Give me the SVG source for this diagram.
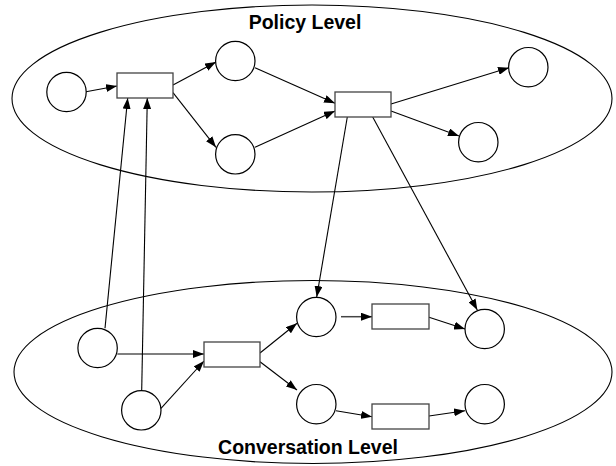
<svg xmlns="http://www.w3.org/2000/svg" width="616" height="466" viewBox="0 0 616 466">
<style>
.lvl{fill:none;stroke:#000;stroke-width:1.1}
.pl{fill:#fff;stroke:#000;stroke-width:1.2}
.tr{fill:#fff;stroke:#444;stroke-width:1.3}
.c{fill:none;stroke:#000;stroke-width:1.1;marker-end:url(#ah)}
.lbl{font-family:"Liberation Sans",Arial,sans-serif;font-weight:bold;font-size:19.5px;text-anchor:middle;fill:#000}
</style>
<defs>
<marker id="ah" markerUnits="userSpaceOnUse" markerWidth="11" markerHeight="8" refX="11" refY="4" orient="auto">
<path d="M0,0 L11,4 L0,8 z" fill="#000"/>
</marker>
</defs>
<rect width="616" height="466" fill="#fff"/>
<g id="policy-level">
<ellipse class="lvl" cx="312" cy="98.5" rx="300" ry="93.5"/>
<text class="lbl" x="305" y="29">Policy Level</text>
</g>
<g id="conversation-level">
<ellipse class="lvl" cx="313" cy="372" rx="299" ry="91.5"/>
<text class="lbl" x="308" y="454">Conversation Level</text>
</g>
<g id="connectors">
<line class="c" x1="86" y1="91.7" x2="117" y2="86"/>
<line class="c" x1="173" y1="85" x2="216" y2="62"/>
<line class="c" x1="173" y1="92.7" x2="216" y2="147.3"/>
<line class="c" x1="255" y1="67.7" x2="335" y2="103.3"/>
<line class="c" x1="255" y1="147.3" x2="335" y2="111"/>
<line class="c" x1="391" y1="104" x2="509" y2="67.7"/>
<line class="c" x1="391" y1="111" x2="459" y2="136"/>
<line class="c" x1="347.3" y1="117" x2="316.7" y2="297"/>
<line class="c" x1="372.7" y1="117" x2="477.3" y2="310"/>
<line class="c" x1="105" y1="328.3" x2="127.7" y2="98"/>
<line class="c" x1="141.7" y1="390.7" x2="147.3" y2="98"/>
<line class="c" x1="117.3" y1="354" x2="204" y2="354"/>
<line class="c" x1="161" y1="408.3" x2="204" y2="361"/>
<line class="c" x1="260" y1="353" x2="297" y2="323.3"/>
<line class="c" x1="260" y1="361.7" x2="297" y2="390"/>
<line class="c" x1="341" y1="316.7" x2="372" y2="316.7" style="stroke:#444;stroke-width:1.5"/>
<line class="c" x1="429" y1="317.3" x2="465" y2="329"/>
<line class="c" x1="336" y1="410.7" x2="372" y2="416.7"/>
<line class="c" x1="429" y1="416" x2="465" y2="410.7"/>
</g>
<g id="p1"><circle class="pl" cx="66.5" cy="92" r="19.7"/></g>
<g id="p2"><circle class="pl" cx="235.3" cy="61" r="19.7"/></g>
<g id="p3"><circle class="pl" cx="235.3" cy="154.3" r="19.7"/></g>
<g id="p4"><circle class="pl" cx="528.3" cy="67.2" r="19.7"/></g>
<g id="p5"><circle class="pl" cx="478.3" cy="142.2" r="19.7"/></g>
<g id="p6"><circle class="pl" cx="316.3" cy="317" r="19.7"/></g>
<g id="p7"><circle class="pl" cx="484.7" cy="329" r="19.7"/></g>
<g id="p8"><circle class="pl" cx="316.3" cy="404.2" r="19.7"/></g>
<g id="p9"><circle class="pl" cx="484.7" cy="404.2" r="19.7"/></g>
<g id="p10"><circle class="pl" cx="97.6" cy="348" r="19.7"/></g>
<g id="p11"><circle class="pl" cx="141.3" cy="410.3" r="19.7"/></g>
<g id="t1"><rect class="tr" x="117" y="73" width="56" height="25"/></g>
<g id="t2"><rect class="tr" x="335" y="92" width="56" height="25"/></g>
<g id="t3"><rect class="tr" x="372" y="304" width="57" height="25"/></g>
<g id="t4"><rect class="tr" x="372" y="404" width="57" height="25"/></g>
<g id="t5"><rect class="tr" x="204" y="342" width="56" height="25"/></g>
</svg>
